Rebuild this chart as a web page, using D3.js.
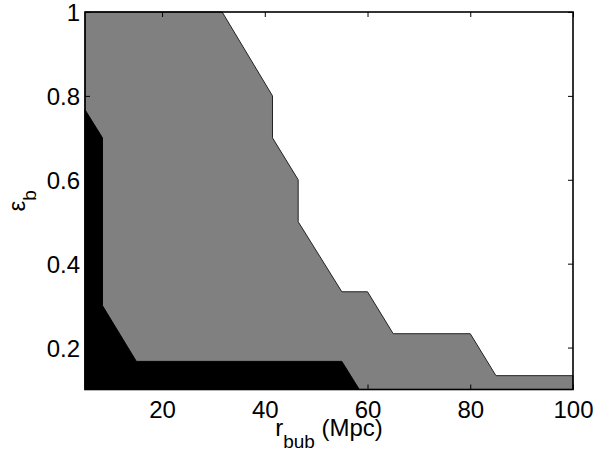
<!DOCTYPE html>
<html>
<head>
<meta charset="utf-8">
<script src="https://cdn.jsdelivr.net/npm/d3@7"></script>
<style>
  html, body { margin: 0; padding: 0; background: #fff; }
  text { font-family: "Liberation Sans", Arial, Helvetica, sans-serif; }
</style>
</head>
<body>
<svg id="chart" width="595" height="456"></svg>
<script>
// ---- data ----
const xTicks = [20, 40, 60, 80, 100];
const yTicks = [0.2, 0.4, 0.6, 0.8, 1];
const xTickLabels = ["20", "40", "60", "80", "100"];
const yTickLabels = ["0.2", "0.4", "0.6", "0.8", "1"];
const xDomain = [5, 100];
const yDomain = [0.1, 1];

// grey region (outer contour), r_bub vs eps_b
const greyX = [5, 31.7, 41.5, 41.5, 46.5, 46.5, 55, 60, 65, 80, 85, 100, 100, 5];
const greyY = [1, 1, 0.8, 0.7, 0.6, 0.5, 0.333, 0.333, 0.233, 0.233, 0.133, 0.133, 0.1, 0.1];

// black region (inner contour)
const blackX = [5, 8.4, 8.4, 15, 55, 58.4, 5];
const blackY = [0.767, 0.7, 0.3, 0.167, 0.167, 0.1, 0.1];

// ---- drawing ----
const svg = d3.select("#chart");
const L = 85, R = 573, T = 12, B = 389.5;

const x = d3.scaleLinear().domain(xDomain).range([L, R]);
const y = d3.scaleLinear().domain(yDomain).range([B, T]);

const line = d3.line().x(d => x(d[0])).y(d => y(d[1]));

const greyPts = d3.zip(greyX, greyY);
const blackPts = d3.zip(blackX, blackY);

svg.append("path")
  .attr("d", line(greyPts) + "Z")
  .attr("fill", "#808080")
  .attr("stroke", "#222")
  .attr("stroke-width", 1)
  .attr("stroke-linejoin", "miter");

svg.append("path")
  .attr("d", line(blackPts) + "Z")
  .attr("fill", "#000")
  .attr("stroke", "#000")
  .attr("stroke-width", 1);

const tickLen = 5;
const fontSize = 24;

// bottom axis (ticks inward, labels below)
const xAxisB = d3.axisBottom(x).tickValues(xTicks)
  .tickFormat((d, i) => xTickLabels[i])
  .tickSizeInner(-tickLen).tickSizeOuter(0).tickPadding(11);
const gB = svg.append("g").attr("transform", `translate(0,${B})`).call(xAxisB);

// top axis (ticks only)
const xAxisT = d3.axisTop(x).tickValues(xTicks).tickFormat("")
  .tickSizeInner(-tickLen).tickSizeOuter(0);
const gT = svg.append("g").attr("transform", `translate(0,${T})`).call(xAxisT);

// left axis
const yAxisL = d3.axisLeft(y).tickValues(yTicks)
  .tickFormat((d, i) => yTickLabels[i])
  .tickSizeInner(-tickLen).tickSizeOuter(0).tickPadding(5);
const gL = svg.append("g").attr("transform", `translate(${L},0)`).call(yAxisL);

// right axis
const yAxisR = d3.axisRight(y).tickValues(yTicks).tickFormat("")
  .tickSizeInner(-tickLen).tickSizeOuter(0);
const gR = svg.append("g").attr("transform", `translate(${R},0)`).call(yAxisR);

[gB, gT, gL, gR].forEach(g => {
  g.select(".domain").remove();
  g.selectAll(".tick line").attr("stroke", "#000").attr("stroke-width", 1);
  g.selectAll(".tick text")
    .attr("fill", "#000")
    .style("font-size", fontSize + "px")
    .style("font-family", '"Liberation Sans", Arial, Helvetica, sans-serif');
});
gB.selectAll(".tick text").attr("dy", "0.71em");
gL.selectAll(".tick text").attr("dy", "0.36em");

// box
svg.append("rect")
  .attr("x", L).attr("y", T)
  .attr("width", R - L).attr("height", B - T)
  .attr("fill", "none")
  .attr("stroke", "#000")
  .attr("stroke-width", 1.6);

// x label: r_bub (Mpc)
const xl = svg.append("text")
  .attr("x", (L + R) / 2)
  .attr("y", 436)
  .attr("text-anchor", "middle")
  .style("font-size", fontSize + "px")
  .attr("fill", "#000");
xl.append("tspan").text("r");
xl.append("tspan").attr("dy", 12).style("font-size", "19px").text("bub");
xl.append("tspan").attr("dy", -12).text(" (Mpc)");

// y label: epsilon_b
const yl = svg.append("text")
  .attr("transform", `translate(25,${(T + B) / 2}) rotate(-90)`)
  .attr("text-anchor", "middle")
  .style("font-size", fontSize + "px")
  .attr("fill", "#000");
yl.append("tspan").text("ε");
yl.append("tspan").attr("dy", 11).style("font-size", "19px").text("b");
</script>
</body>
</html>
